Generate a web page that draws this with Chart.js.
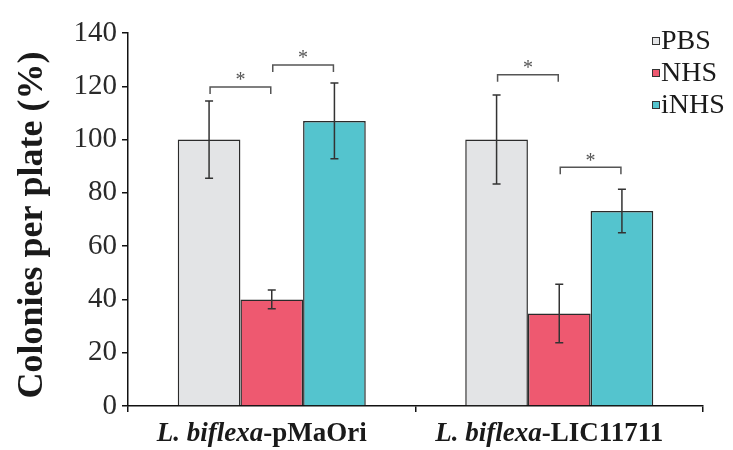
<!DOCTYPE html>
<html>
<head>
<meta charset="utf-8">
<script src="https://cdn.jsdelivr.net/npm/chart.js@4.4.1/dist/chart.umd.min.js"></script>
<style>
  html, body { margin: 0; padding: 0; background: #fff; }
  #wrap { width: 733px; height: 450px; }
</style>
</head>
<body>
<div id="wrap"><canvas id="myChart" width="733" height="450"></canvas></div>
<script>
// data
let categories = ["L. biflexa-pMaOri", "L. biflexa-LIC11711"];
let labelItalic = ["L. biflexa", "L. biflexa"];
let labelPlain = ["-pMaOri", "-LIC11711"];
let seriesNames = ["PBS", "NHS", "iNHS"];
let pbsValues = [100, 100];
let nhsValues = [40, 34.7];
let inhsValues = [107, 73.2];
let pbsErr = [14.5, 16.7];
let nhsErr = [3.5, 11];
let inhsErr = [14.2, 8.2];
let yTicks = [0, 20, 40, 60, 80, 100, 120, 140];

// significance brackets: group, from series, to series, height
let sigGroup = [0, 0, 1, 1];
let sigFrom = [0, 1, 0, 1];
let sigTo = [1, 2, 1, 2];
let sigHeight = [119.7, 128, 124.3, 89.6];

var barColors = ["#e3e4e6", "#ee5970", "#54c4ce"];
var errors = [pbsErr, nhsErr, inhsErr];
var serif = "'Liberation Serif', 'DejaVu Serif', serif";

//PLUGIN: error bars, brackets, labels, legend
let extras = {
  id: "extras",
  afterDatasetsDraw(chart) {
    let ctx = chart.ctx;
    let y = chart.scales.y;

    // error bars
    ctx.save();
    ctx.strokeStyle = "#333";
    ctx.lineWidth = 1.5;
    chart.data.datasets.forEach(function (ds, i) {
      let meta = chart.getDatasetMeta(i);
      meta.data.forEach(function (bar, j) {
        let v = ds.data[j];
        let e = errors[i][j];
        let top = y.getPixelForValue(v + e);
        let bot = y.getPixelForValue(v - e);
        ctx.beginPath();
        ctx.moveTo(bar.x, top);
        ctx.lineTo(bar.x, bot);
        ctx.moveTo(bar.x - 4, top);
        ctx.lineTo(bar.x + 4, top);
        ctx.moveTo(bar.x - 4, bot);
        ctx.lineTo(bar.x + 4, bot);
        ctx.stroke();
      });
    });
    ctx.restore();

    // significance brackets
    ctx.save();
    ctx.strokeStyle = "#555";
    ctx.fillStyle = "#555";
    ctx.lineWidth = 1.5;
    ctx.font = "20px " + serif;
    ctx.textAlign = "center";
    ctx.textBaseline = "middle";
    for (let k = 0; k < sigGroup.length; k++) {
      let x1 = chart.getDatasetMeta(sigFrom[k]).data[sigGroup[k]].x + 1;
      let x2 = chart.getDatasetMeta(sigTo[k]).data[sigGroup[k]].x - 1;
      let by = y.getPixelForValue(sigHeight[k]);
      ctx.beginPath();
      ctx.moveTo(x1, by + 7);
      ctx.lineTo(x1, by);
      ctx.lineTo(x2, by);
      ctx.lineTo(x2, by + 7);
      ctx.stroke();
      ctx.fillText("*", (x1 + x2) / 2, by - 6);
    }
    ctx.restore();
  },
  afterDraw(chart) {
    let ctx = chart.ctx;
    let x = chart.scales.x;

    // category labels, species part in italic
    ctx.save();
    ctx.fillStyle = "#1a1a1a";
    ctx.textBaseline = "middle";
    categories.forEach(function (c, i) {
      let f1 = "italic bold 27px " + serif;
      let f2 = "bold 27px " + serif;
      ctx.font = f1;
      let w1 = ctx.measureText(labelItalic[i]).width;
      ctx.font = f2;
      let w2 = ctx.measureText(labelPlain[i]).width;
      let cx = x.getPixelForValue(i) - 10;
      let start = cx - (w1 + w2) / 2;
      ctx.textAlign = "left";
      ctx.font = f1;
      ctx.fillText(labelItalic[i], start, 434);
      ctx.font = f2;
      ctx.fillText(labelPlain[i], start + w1, 434);
    });
    ctx.restore();

    // y axis title
    ctx.save();
    ctx.fillStyle = "#1a1a1a";
    ctx.font = "bold 36px " + serif;
    ctx.textAlign = "center";
    ctx.textBaseline = "middle";
    ctx.translate(33, 225);
    ctx.rotate(-Math.PI / 2);
    ctx.fillText("Colonies per plate (%)", 0, 0);
    ctx.restore();

    // legend
    ctx.save();
    ctx.font = "28px " + serif;
    ctx.textAlign = "left";
    ctx.textBaseline = "middle";
    seriesNames.forEach(function (s, i) {
      let ly = 41 + i * 32;
      ctx.fillStyle = barColors[i];
      ctx.fillRect(652.5, ly - 3.5, 7, 7);
      ctx.strokeStyle = "#333";
      ctx.lineWidth = 1;
      ctx.strokeRect(652.5, ly - 3.5, 7, 7);
      ctx.fillStyle = "#1a1a1a";
      ctx.fillText(s, 661, ly + 1);
    });
    ctx.restore();
  },
};

new Chart("myChart", {
  type: "bar",
  data: {
    labels: categories,
    datasets: [
      {
        label: seriesNames[0],
        data: pbsValues,
        backgroundColor: barColors[0],
        borderColor: "#2b2b2b",
        borderWidth: 1.5,
      },
      {
        label: seriesNames[1],
        data: nhsValues,
        backgroundColor: barColors[1],
        borderColor: "#2b2b2b",
        borderWidth: 1.5,
      },
      {
        label: seriesNames[2],
        data: inhsValues,
        backgroundColor: barColors[2],
        borderColor: "#2b2b2b",
        borderWidth: 1.5,
      },
    ],
  },
  options: {
    responsive: false,
    animation: false,
    layout: { padding: { left: 0, right: 30, top: 33, bottom: 0 } },
    datasets: {
      bar: { categoryPercentage: 0.654, barPercentage: 1.0 },
    },
    plugins: {
      legend: { display: false },
      tooltip: { enabled: false },
    },
    scales: {
      x: {
        grid: {
          offset: true,
          drawOnChartArea: false,
          tickLength: 6,
          color: "#111",
          lineWidth: 1.5,
        },
        border: { color: "#111", width: 1.5 },
        ticks: { display: false },
        afterFit: function (scale) {
          scale.height = 44;
        },
      },
      y: {
        min: 0,
        max: 140,
        afterBuildTicks: function (scale) {
          scale.ticks = yTicks.map(function (v) {
            return { value: v };
          });
        },
        grid: {
          drawOnChartArea: false,
          tickLength: 6,
          color: "#111",
          lineWidth: 1.5,
        },
        border: { color: "#111", width: 1.5 },
        ticks: {
          color: "#2a2a2a",
          padding: 5,
          font: { family: serif, size: 29 },
        },
        afterFit: function (scale) {
          scale.width = 128;
        },
      },
    },
  },
  plugins: [extras],
});
</script>
</body>
</html>
